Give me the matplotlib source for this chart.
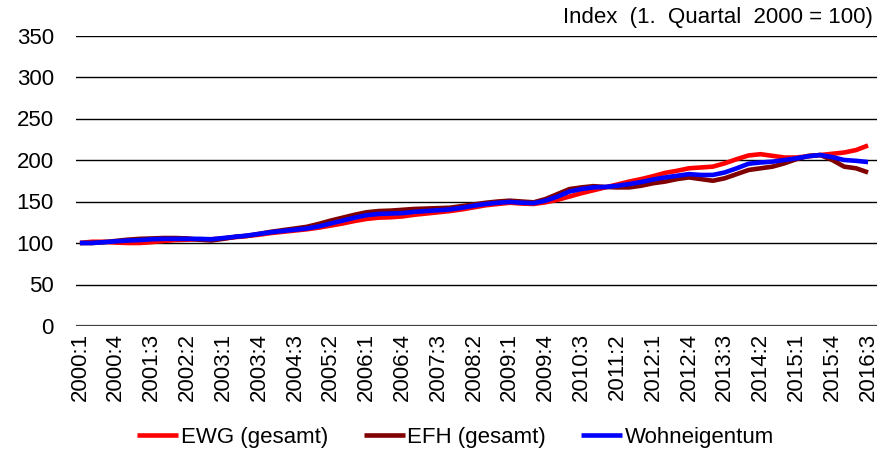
import matplotlib
matplotlib.use("Agg")
import matplotlib.pyplot as plt
import numpy as np

years = list(range(2000, 2017))
quarters = [f"{y}:{q}" for y in years for q in range(1, 5)][:67]

ewg = [100, 101.5, 101.5, 100.5, 100, 100, 101, 102.5, 103.5, 104, 104.5, 104.5,
       105.5, 107, 108.5, 110, 112, 113.5, 115, 116.5, 118.5, 121, 123.5, 126.5,
       129, 130.5, 131, 132, 134, 135.5, 137, 138.5, 140.5, 143, 145.5, 147,
       148.5, 147.5, 147, 149, 152, 156, 160, 163.5, 167, 170.5, 174, 177,
       180.5, 184.5, 187, 190, 191, 192, 196, 201, 205.5, 207, 205, 203,
       203, 204.5, 206, 207.5, 209, 212, 217.5]
efh = [100, 100, 101, 102.5, 104, 105, 105.5, 106, 106, 105.5, 104, 103,
       105, 107.5, 108.5, 111, 113.5, 115.5, 117.5, 119.5, 123, 127, 130.5, 134,
       137, 138.5, 139, 140, 141, 141.5, 142, 142.5, 144.5, 146.5, 148.5, 150,
       151, 150, 149, 153, 159, 165, 167, 168.5, 167.5, 167, 167, 169,
       172, 174, 177, 179, 177, 175, 178, 183, 188, 190, 192, 196,
       201, 205, 206, 200, 192, 190, 185]
wohn = [100, 100, 101, 102, 103, 103.5, 104.5, 105, 105, 105, 105, 104.5,
        106, 107.5, 109, 111, 113, 114.5, 116, 117.5, 120, 123.5, 127, 130.5,
        133.5, 135, 135.5, 136, 137.5, 138.5, 139.5, 140.5, 142.5, 145, 147, 148.5,
        149.5, 148.5, 148, 151, 156, 162, 165, 167, 167.5, 169, 171, 173.5,
        176.5, 179, 181, 183, 182, 182, 185, 190, 195.5, 197, 198, 200,
        202, 204.5, 206, 203.5, 200, 199, 197.5]

series_names = ["EWG (gesamt)", "EFH (gesamt)", "Wohneigentum"]
series_colors = ["#FF0000", "#800000", "#0000FF"]
yticks = [0, 50, 100, 150, 200, 250, 300, 350]

plt.rcParams['font.family'] = ['Liberation Sans', 'DejaVu Sans']

fig = plt.figure(figsize=(8.88, 4.51), dpi=100)
ax = fig.add_axes([76/888, 1-326/451, (877-76)/888, (326-35.5)/451])

x = np.arange(len(quarters))
for vals, name, col in zip([ewg, efh, wohn], series_names, series_colors):
    ax.plot(x, vals, color=col, lw=3.3, label=name, solid_capstyle='butt',
            solid_joinstyle='round', zorder=3)

ax.set_ylim(0, 350)
ax.set_xlim(-0.33, 66.75)
ax.set_yticks(yticks)
ax.set_yticklabels([str(v) for v in yticks])
ax.set_xticks(x[::3])
ax.set_xticklabels(quarters[::3], rotation=90)
for s in ax.spines.values():
    s.set_visible(False)
for v in yticks:
    if v == 0:
        ax.axhline(v, color="#404040", lw=1.6, zorder=2)
    else:
        ax.axhline(v, color="#000000", lw=1.0, zorder=1)
ax.tick_params(axis='y', length=0, pad=16, labelsize=16)
ax.tick_params(axis='x', length=0, pad=5, labelsize=16)

fig.text(873/888, 1-18/451, "Index  (1.  Quartal  2000 = 100)", ha='right', va='center',
         fontsize=16)

fig.legend(loc='center', bbox_to_anchor=(0.513, 1-437/451), ncol=3, frameon=False,
           fontsize=16, handlelength=1.85, handletextpad=0.1, columnspacing=1.6,
           borderaxespad=0)

fig.savefig("out.png", dpi=100)
